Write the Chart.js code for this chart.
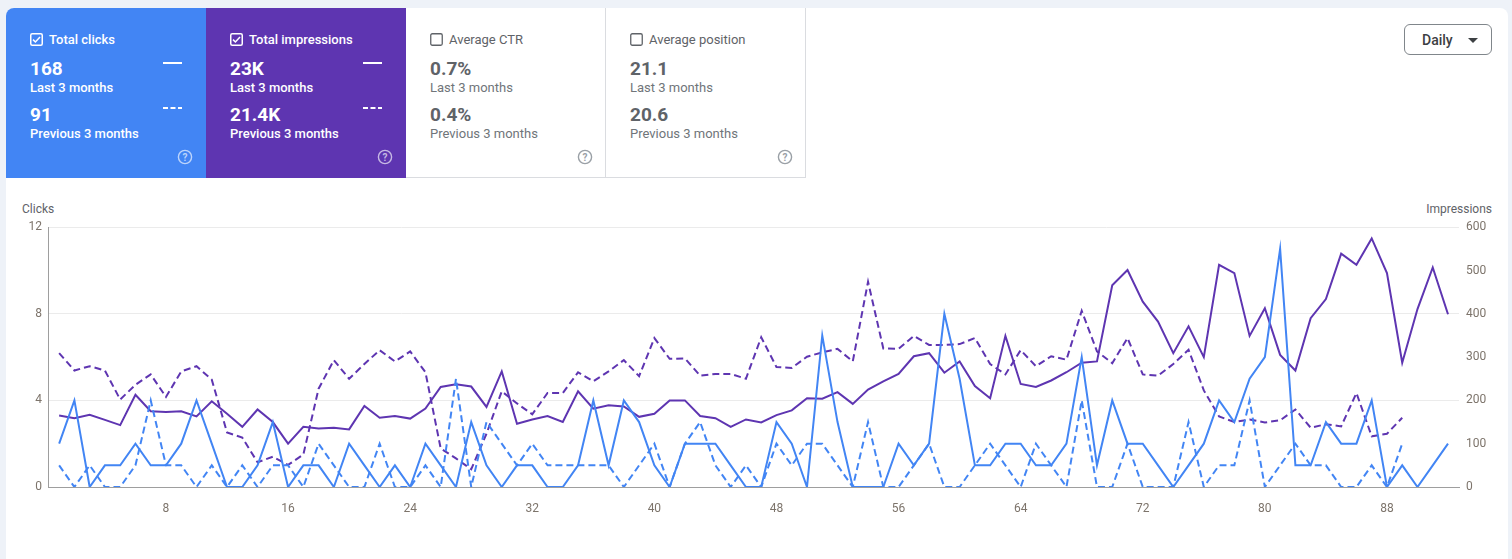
<!DOCTYPE html>
<html>
<head>
<meta charset="utf-8">
<script src="https://cdn.jsdelivr.net/npm/chart.js@4.4.1/dist/chart.umd.min.js"></script>
<style>
  html,body{margin:0;padding:0;}
  body{width:1512px;height:559px;background:#eef2f8;font-family:Roboto,"Noto Sans",Arial,sans-serif;position:relative;overflow:hidden;}
  #card{position:absolute;left:6px;top:8px;width:1502px;height:560px;background:#fff;border-radius:8px 8px 0 0;}
  .tile{position:absolute;top:8px;height:170px;width:200px;box-sizing:border-box;}
  .t1{left:6px;background:#4285f4;border-top-left-radius:8px;color:#fff;}
  .t2{left:206px;background:#5e35b1;color:#fff;}
  .t3{left:406px;background:#fff;border-right:1px solid #dadce0;border-bottom:1px solid #dadce0;color:#5f6368;}
  .t4{left:606px;background:#fff;border-right:1px solid #dadce0;border-bottom:1px solid #dadce0;color:#5f6368;}
  .cb{position:absolute;left:24px;top:25px;width:13px;height:13px;}
  .title{position:absolute;left:43px;top:24px;font-size:13px;line-height:16px;white-space:nowrap;}
  .t1 .title,.t2 .title{font-weight:500;}
  .val{position:absolute;left:24px;font-size:19px;line-height:22px;font-weight:700;white-space:nowrap;}
  .v1{top:50px;} .v2{top:96px;}
  .sub{position:absolute;left:24px;font-size:13px;line-height:16px;white-space:nowrap;}
  .s1{top:72px;} .s2{top:118px;}
  .t3 .sub,.t4 .sub{color:#70757a;}
  .t1 .sub,.t2 .sub{font-weight:500;}
  .leg{position:absolute;left:157px;width:20px;height:4px;}
  .l1{top:53px;} .l2{top:98px;}
  .help{position:absolute;left:171px;top:141px;width:16px;height:16px;}
  #daily{position:absolute;left:1404px;top:24px;width:88px;height:31px;box-sizing:border-box;border:1px solid #80868b;border-radius:6px;background:#fff;}
  #daily span{position:absolute;left:17px;top:6px;font-size:14px;line-height:18px;font-weight:500;color:#3c4043;}
  #daily svg{position:absolute;left:63px;top:13px;}
  .axt{position:absolute;top:201px;font-size:12px;line-height:16px;color:#5f6368;}
  #wrap{position:absolute;left:0;top:213px;width:1512px;height:303px;}
</style>
</head>
<body>
<div id="card"></div>

<div class="tile t1">
  <svg class="cb" viewBox="0 0 13 13"><rect x="0.75" y="0.75" width="11.5" height="11.5" rx="1.5" fill="none" stroke="#fff" stroke-width="1.5"/><path d="M3 6.6 L5.4 9 L10 4" fill="none" stroke="#fff" stroke-width="1.5"/></svg>
  <div class="title">Total clicks</div>
  <div class="val v1">168</div>
  <div class="sub s1">Last 3 months</div>
  <div class="val v2">91</div>
  <div class="sub s2">Previous 3 months</div>
  <svg class="leg l1" viewBox="0 0 20 4"><line x1="0" y1="2" x2="19" y2="2" stroke="#fff" stroke-width="2"/></svg>
  <svg class="leg l2" viewBox="0 0 20 4"><line x1="0" y1="2" x2="19" y2="2" stroke="#fff" stroke-width="2" stroke-dasharray="5 2.5"/></svg>
  <svg class="help" viewBox="0 0 16 16"><circle cx="8" cy="8" r="6.6" fill="none" stroke="rgba(255,255,255,0.65)" stroke-width="1.4"/><text x="8" y="11.6" text-anchor="middle" font-size="10" font-weight="700" font-family="Roboto" fill="rgba(255,255,255,0.65)">?</text></svg>
</div>

<div class="tile t2">
  <svg class="cb" viewBox="0 0 13 13"><rect x="0.75" y="0.75" width="11.5" height="11.5" rx="1.5" fill="none" stroke="#fff" stroke-width="1.5"/><path d="M3 6.6 L5.4 9 L10 4" fill="none" stroke="#fff" stroke-width="1.5"/></svg>
  <div class="title">Total impressions</div>
  <div class="val v1">23K</div>
  <div class="sub s1">Last 3 months</div>
  <div class="val v2">21.4K</div>
  <div class="sub s2">Previous 3 months</div>
  <svg class="leg l1" viewBox="0 0 20 4"><line x1="0" y1="2" x2="19" y2="2" stroke="#fff" stroke-width="2"/></svg>
  <svg class="leg l2" viewBox="0 0 20 4"><line x1="0" y1="2" x2="19" y2="2" stroke="#fff" stroke-width="2" stroke-dasharray="5 2.5"/></svg>
  <svg class="help" viewBox="0 0 16 16"><circle cx="8" cy="8" r="6.6" fill="none" stroke="rgba(255,255,255,0.65)" stroke-width="1.4"/><text x="8" y="11.6" text-anchor="middle" font-size="10" font-weight="700" font-family="Roboto" fill="rgba(255,255,255,0.65)">?</text></svg>
</div>

<div class="tile t3">
  <svg class="cb" viewBox="0 0 13 13"><rect x="0.75" y="0.75" width="11.5" height="11.5" rx="1.5" fill="none" stroke="#5f6368" stroke-width="1.3"/></svg>
  <div class="title">Average CTR</div>
  <div class="val v1">0.7%</div>
  <div class="sub s1">Last 3 months</div>
  <div class="val v2">0.4%</div>
  <div class="sub s2">Previous 3 months</div>
  <svg class="help" viewBox="0 0 16 16"><circle cx="8" cy="8" r="6.6" fill="none" stroke="#9aa0a6" stroke-width="1.4"/><text x="8" y="11.6" text-anchor="middle" font-size="10" font-weight="700" font-family="Roboto" fill="#9aa0a6">?</text></svg>
</div>

<div class="tile t4">
  <svg class="cb" viewBox="0 0 13 13"><rect x="0.75" y="0.75" width="11.5" height="11.5" rx="1.5" fill="none" stroke="#5f6368" stroke-width="1.3"/></svg>
  <div class="title">Average position</div>
  <div class="val v1">21.1</div>
  <div class="sub s1">Last 3 months</div>
  <div class="val v2">20.6</div>
  <div class="sub s2">Previous 3 months</div>
  <svg class="help" viewBox="0 0 16 16"><circle cx="8" cy="8" r="6.6" fill="none" stroke="#9aa0a6" stroke-width="1.4"/><text x="8" y="11.6" text-anchor="middle" font-size="10" font-weight="700" font-family="Roboto" fill="#9aa0a6">?</text></svg>
</div>

<div id="daily"><span>Daily</span><svg width="10" height="5" viewBox="0 0 10 5"><path d="M0 0 L10 0 L5 5 Z" fill="#3c4043"/></svg></div>

<div class="axt" style="left:22px;">Clicks</div>
<div class="axt" style="right:20px;">Impressions</div>

<div id="wrap"><canvas id="c"></canvas></div>

<script>
// ---- data ----
const xTickLabels = [8, 16, 24, 32, 40, 48, 56, 64, 72, 80, 88];
const clicksTicks = [0, 4, 8, 12];
const impressionsTicks = [0, 100, 200, 300, 400, 500, 600];

const clicksCurrent = [2,4,0,1,1,2,1,1,2,4,2,0,0,1,3,0,
  1,1,0,2,1,0,1,0,2,1,0,3,1,0,1,
  1,0,0,1,4,1,4,3,1,0,2,2,2,1,0,
  0,3,2,0,7,3,0,0,0,2,1,2,8,5,1,
  1,2,2,1,1,2,6,1,4,2,2,1,0,1,2,
  4,3,5,6,11,1,1,3,2,2,4,0,1,0,1,2];

const clicksPrevious = [1,0,1,0,0,1,4,1,1,0,1,0,1,0,1,1,
  0,2,1,0,0,2,0,0,1,0,5,0,3,2,1,
  2,1,1,1,1,1,0,1,2,0,2,3,1,0,1,
  0,2,1,2,2,1,0,3,0,0,1,2,0,0,1,
  2,1,0,2,1,0,4,0,0,2,0,0,0,3,0,
  1,1,4,0,1,2,1,1,0,0,1,0,2];

const impressionsCurrent = [165,159,167,155,143,213,175,173,175,163,198,169,139,179,150,100,
  139,135,137,133,187,160,164,158,181,231,237,232,185,267,146,
  156,164,150,221,181,189,186,162,169,200,200,164,159,139,156,
  149,166,177,205,204,219,192,225,244,261,302,309,264,290,233,
  205,349,238,231,246,265,287,290,466,501,428,382,309,371,300,
  513,494,349,413,305,269,390,434,539,513,574,494,287,411,507,399];

const impressionsPrevious = [309,269,279,269,202,236,260,208,267,279,248,126,114,57,70,51,
  75,227,293,250,284,316,290,313,265,89,66,41,123,221,193,
  168,217,217,265,244,267,293,256,344,296,297,257,261,261,250,
  346,277,275,301,311,319,290,474,320,319,349,328,328,330,344,
  284,260,316,279,302,294,407,313,286,344,260,257,284,317,223,
  163,150,156,149,154,179,137,145,140,217,117,123,160];

const BLUE = '#4285f4';
const PURPLE = '#5e35b1';
const TICK = '#7d746b';

const toPts = arr => arr.map((v, i) => ({x: i + 1, y: v}));

const line = (label, arr, color, axis, dashed) => ({
  label, data: toPts(arr), yAxisID: axis,
  borderColor: color, backgroundColor: color, borderWidth: 2,
  borderDash: dashed ? [7, 4] : [], pointRadius: 0, pointHoverRadius: 0,
  tension: 0, fill: false
});

new Chart(document.getElementById('c'), {
  type: 'line',
  data: {
    datasets: [
      line('Clicks (last 3 months)', clicksCurrent, BLUE, 'yC', false),
      line('Clicks (previous 3 months)', clicksPrevious, BLUE, 'yC', true),
      line('Impressions (last 3 months)', impressionsCurrent, PURPLE, 'yI', false),
      line('Impressions (previous 3 months)', impressionsPrevious, PURPLE, 'yI', true)
    ]
  },
  options: {
    responsive: true,
    maintainAspectRatio: false,
    animation: false,
    layout: {padding: {top: 10, left: 0, right: 0, bottom: 0}},
    plugins: {legend: {display: false}, tooltip: {enabled: false}},
    scales: {
      x: {
        type: 'linear', min: 0.27, max: 92.72,
        grid: {display: false, drawTicks: false},
        border: {display: true, color: '#9e9e9e', width: 1},
        afterBuildTicks: s => { s.ticks = xTickLabels.map(v => ({value: v})); },
        afterFit: s => { s.height = 29; },
        ticks: {color: TICK, font: {family: 'Roboto', size: 12}, padding: 15, maxRotation: 0, autoSkip: false}
      },
      yC: {
        type: 'linear', position: 'left', min: 0, max: 12,
        afterBuildTicks: s => { s.ticks = clicksTicks.map(v => ({value: v})); },
        afterFit: s => { s.width = 48; },
        grid: {color: '#ebebeb', drawTicks: false},
        border: {display: true, color: '#9e9e9e', width: 1},
        ticks: {color: TICK, font: {family: 'Roboto', size: 12}, padding: 6}
      },
      yI: {
        type: 'linear', position: 'right', min: 0, max: 600,
        afterBuildTicks: s => { s.ticks = impressionsTicks.map(v => ({value: v})); },
        afterFit: s => { s.width = 53; },
        grid: {drawOnChartArea: false, drawTicks: false},
        border: {display: false},
        ticks: {color: TICK, font: {family: 'Roboto', size: 12}, padding: 7}
      }
    }
  }
});
</script>
</body>
</html>
